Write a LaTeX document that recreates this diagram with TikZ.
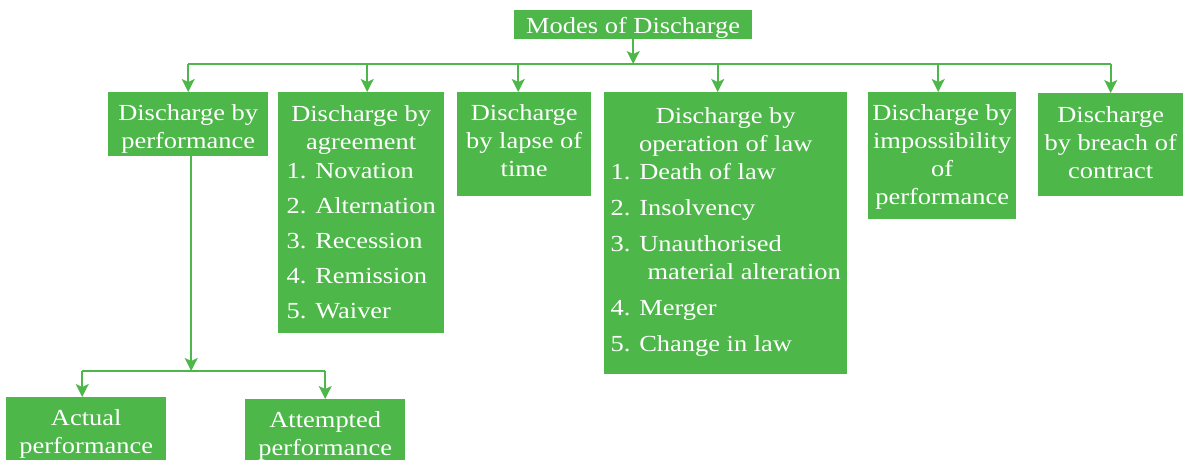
\documentclass[tikz,border=0pt]{standalone}
\usepackage{fontspec}
\setmainfont{Liberation Serif}[FakeStretch=1.15]
\usetikzlibrary{arrows.meta}

\definecolor{boxgreen}{RGB}{77,183,73}
\newcommand{\midlines}[1]{\begin{tabular}[t]{@{}c@{}}#1\end{tabular}}
\newcommand{\listlines}[1]{\begin{tabular}[t]{@{}l@{}}#1\end{tabular}}
\newcommand{\headline}[1]{\multicolumn{1}{@{}c@{}}{#1}}
\tikzset{
  modebox/.style={fill=boxgreen, text=white, inner sep=0pt, anchor=north west,
    text height=28pt, font=\fontsize{23}{28}\selectfont},
  busline/.style={draw=boxgreen, line width=1.6pt},
  busarrow/.style={busline, -{Stealth[length=13pt,width=13pt,inset=3pt]}}
}

\begin{document}
\begin{tikzpicture}[x=1pt,y=-1pt]
\useasboundingbox (0,0) rectangle (1187,460);
\clip (0,0) rectangle (1187,460);
% top box
\node[modebox, minimum width=238pt, minimum height=29pt, text height=23pt, text depth=6pt] (modes) at (514,10) {\midlines{Modes of Discharge}};
% second row
\node[modebox, minimum width=160pt, minimum height=64pt, text depth=36pt] (perf) at (108,92) {\midlines{Discharge by\\performance}};
\node[modebox, minimum width=166pt, minimum height=241pt, text height=29pt, text depth=212pt] (agree) at (278,92) {%
  \listlines{\headline{Discharge by}\\[0.5pt]
  \headline{agreement}\\[0.5pt]
  1. Novation\\[7pt]
  2. Alternation\\[7pt]
  3. Recession\\[7pt]
  4. Remission\\[7pt]
  5. Waiver}};
\node[modebox, minimum width=134pt, minimum height=104pt, text depth=76pt] (lapse) at (457,92) {\midlines{Discharge\\by lapse of\\time}};
\node[modebox, minimum width=243pt, minimum height=282pt, text height=31pt, text depth=251pt] (oplaw) at (604,92) {%
  \listlines{\headline{Discharge by}\\[0.4pt]
  \headline{operation of law}\\[0.4pt]
  1. Death of law\\[8pt]
  2. Insolvency\\[8pt]
  3. Unauthorised\\
  \hspace*{37pt}material alteration\\[8pt]
  4. Merger\\[8pt]
  5. Change in law}};
\node[modebox, minimum width=148pt, minimum height=127pt, text depth=99pt] (impos) at (868,92) {\midlines{Discharge by\\impossibility\\of\\performance}};
\node[modebox, minimum width=145pt, minimum height=103pt, text height=29pt, text depth=74pt] (breach) at (1038,93) {\midlines{Discharge\\by breach of\\contract}};
% bottom row
\node[modebox, minimum width=160pt, minimum height=68pt, text depth=40pt] (actual) at (6,397) {\midlines{Actual\\performance}};
\node[modebox, minimum width=160pt, minimum height=64pt, text depth=36pt] (attempt) at (245,399) {\midlines{Attempted\\performance}};

% connectors
\coordinate (topbus) at (633,64);
\draw[busarrow] (modes.south) -- (modes.south |- topbus);
\draw[busline] (perf.north |- topbus) -- (breach.north |- topbus);
\draw[busarrow] (perf.north |- topbus) -- (perf.north);
\draw[busarrow] ([xshift=6pt]agree.north |- topbus) -- ([xshift=6pt]agree.north);
\draw[busarrow] ([xshift=-6pt]lapse.north |- topbus) -- ([xshift=-6pt]lapse.north);
\draw[busarrow] ([xshift=-8pt]oplaw.north |- topbus) -- ([xshift=-8pt]oplaw.north);
\draw[busarrow] ([xshift=-4pt]impos.north |- topbus) -- ([xshift=-4pt]impos.north);
\draw[busarrow] (breach.north |- topbus) -- (breach.north);

\coordinate (lowbus) at (191,371);
\draw[busarrow] ([xshift=3pt]perf.south) -- ([xshift=3pt]perf.south |- lowbus);
\draw[busline] ([xshift=-4pt]actual.north |- lowbus) -- (attempt.north |- lowbus);
\draw[busarrow] ([xshift=-4pt]actual.north |- lowbus) -- ([xshift=-4pt]actual.north);
\draw[busarrow] (attempt.north |- lowbus) -- (attempt.north);
\end{tikzpicture}
\end{document}
